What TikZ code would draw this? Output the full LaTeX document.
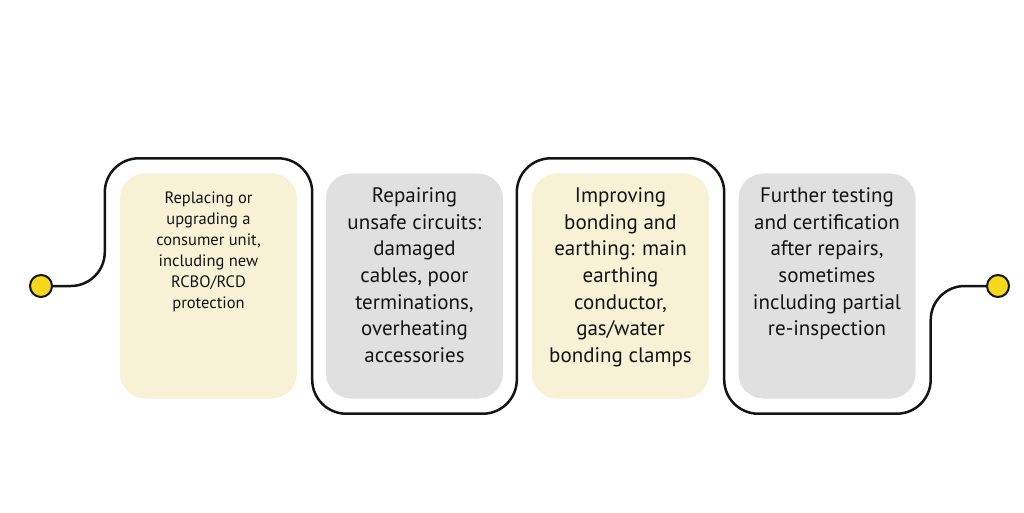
\documentclass[tikz,border=0pt]{standalone}
\usepackage{fontspec}
\setmainfont{PT Sans}
\usetikzlibrary{positioning}
\definecolor{cream}{HTML}{F7F1D6}
\definecolor{ash}{HTML}{E0E0E0}
\definecolor{bulb}{HTML}{F5D81E}
\definecolor{ink}{HTML}{141414}
\tikzset{
	task/.style={rectangle, rounded corners=25pt, minimum width=177pt, minimum height=225pt, inner sep=0pt},
	caption/.style={anchor=north, align=center, text=ink, inner sep=0pt},
	small/.style={font=\fontsize{16.5}{21}\selectfont},
	large/.style={font=\fontsize{21}{26.7}\selectfont},
	wire/.style={draw=ink, line width=2.5pt, rounded corners=34pt},
	terminal/.style={circle, fill=bulb, draw=ink, line width=2pt, minimum size=22pt, inner sep=0pt}
}
\begin{document}
\begin{tikzpicture}[x=1pt,y=1pt]
	\useasboundingbox (0,0) rectangle (1024,512);
	\node [task, fill=cream]	(Consumer)	at (208.5,226)	{};
	\node [task, fill=ash]	(Circuits)	at (414.5,226)	{};
	\node [task, fill=cream]	(Bonding)	at (620.5,226)	{};
	\node [task, fill=ash]	(Testing)	at (827,226)	{};
	\node [caption, small]	at ([yshift=-18pt]Consumer.north)	{Replacing or\\upgrading a\\consumer unit,\\including new\\RCBO/RCD\\protection};
	\node [caption, large]	at ([yshift=-14pt]Circuits.north)	{Repairing\\unsafe circuits:\\damaged\\cables, poor\\terminations,\\overheating\\accessories};
	\node [caption, large]	at ([yshift=-14pt]Bonding.north)	{Improving\\bonding and\\earthing: main\\earthing\\conductor,\\gas/water\\bonding clamps};
	\node [caption, large]	at ([yshift=-14pt]Testing.north)	{Further testing\\and certification\\after repairs,\\sometimes\\including partial\\re-inspection};
	\node [terminal]	(Start)	at (41,226)	{};
	\node [terminal]	(End)	at (998,226)	{};
	% path snaking round the four boxes
	\draw [wire] (Start.east) -| ([xshift=-15pt, yshift=15pt]Consumer.north west)
		-| ([xshift=15pt, yshift=-15pt]Consumer.south east)
		-| ([xshift=-15pt, yshift=15pt]Bonding.north west)
		-| ([xshift=15pt, yshift=-15pt]Bonding.south east)
		-| ([xshift=15pt]Testing.east) -- (End.west);
\end{tikzpicture}
\end{document}
